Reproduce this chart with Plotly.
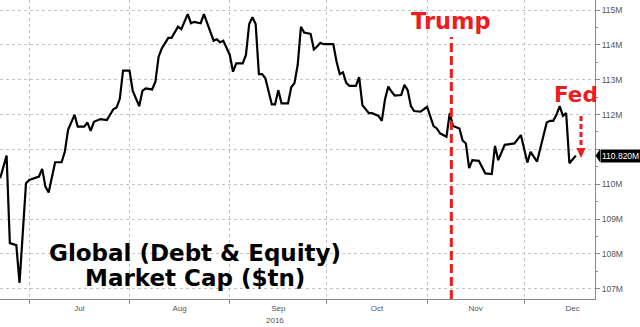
import plotly.graph_objects as go

# Global (debt & equity) market capitalisation, $tn
dates = [
    "2016-06-22", "2016-06-24", "2016-06-25", "2016-06-27", "2016-06-28", "2016-06-30",
    "2016-07-01", "2016-07-04", "2016-07-05", "2016-07-06", "2016-07-07", "2016-07-09",
    "2016-07-11", "2016-07-12", "2016-07-13", "2016-07-15", "2016-07-16", "2016-07-18",
    "2016-07-19", "2016-07-20", "2016-07-21", "2016-07-23", "2016-07-25", "2016-07-27",
    "2016-07-28", "2016-07-29", "2016-07-30", "2016-08-01", "2016-08-02", "2016-08-04",
    "2016-08-05", "2016-08-06", "2016-08-08", "2016-08-09", "2016-08-10", "2016-08-11",
    "2016-08-13", "2016-08-14", "2016-08-16", "2016-08-17", "2016-08-19", "2016-08-20",
    "2016-08-21", "2016-08-23", "2016-08-24", "2016-08-25", "2016-08-26", "2016-08-27",
    "2016-08-28", "2016-08-29", "2016-08-30", "2016-08-31", "2016-09-01", "2016-09-02",
    "2016-09-03", "2016-09-05", "2016-09-06", "2016-09-07", "2016-09-08", "2016-09-09",
    "2016-09-10", "2016-09-11", "2016-09-12", "2016-09-14", "2016-09-15", "2016-09-16",
    "2016-09-17", "2016-09-19", "2016-09-20", "2016-09-21", "2016-09-22", "2016-09-23",
    "2016-09-24", "2016-09-26", "2016-09-27", "2016-09-28", "2016-09-29", "2016-09-30",
    "2016-10-03", "2016-10-04", "2016-10-05", "2016-10-06", "2016-10-07", "2016-10-08",
    "2016-10-10", "2016-10-11", "2016-10-12", "2016-10-14", "2016-10-15", "2016-10-17",
    "2016-10-18", "2016-10-19", "2016-10-20", "2016-10-21", "2016-10-22", "2016-10-24",
    "2016-10-25", "2016-10-26", "2016-10-27", "2016-10-28", "2016-10-30", "2016-11-01",
    "2016-11-02", "2016-11-03", "2016-11-04", "2016-11-05", "2016-11-07", "2016-11-08",
    "2016-11-09", "2016-11-11", "2016-11-12", "2016-11-13", "2016-11-14", "2016-11-15",
    "2016-11-17", "2016-11-19", "2016-11-21", "2016-11-22", "2016-11-23", "2016-11-25",
    "2016-11-28", "2016-11-30", "2016-12-02", "2016-12-03", "2016-12-05", "2016-12-06",
    "2016-12-08", "2016-12-09", "2016-12-10", "2016-12-11", "2016-12-12", "2016-12-13",
    "2016-12-14", "2016-12-15", "2016-12-16", "2016-12-17",
]
market_cap = [
    110.17, 110.82, 108.31, 108.25, 107.17, 110.03,
    110.12, 110.22, 110.44, 109.93, 109.76, 110.63,
    110.63, 110.93, 111.56, 111.99, 111.65, 111.65,
    111.77, 111.53, 111.79, 111.87, 111.84, 112.15,
    112.20, 112.45, 113.26, 113.26, 112.68, 112.24,
    112.68, 112.75, 112.72, 112.94, 113.66, 113.90,
    114.20, 114.20, 114.52, 114.45, 114.88, 114.62,
    114.66, 114.62, 114.88, 114.62, 114.33, 114.12,
    114.16, 114.07, 114.12, 113.90, 113.71, 113.23,
    113.47, 113.47, 113.71, 114.60, 114.79, 114.60,
    113.16, 113.16, 113.04, 112.29, 112.29, 112.70,
    112.32, 112.32, 112.78, 112.90, 113.42, 114.52,
    114.35, 114.31, 113.87, 113.95, 114.06, 114.02,
    114.02, 113.52, 113.16, 113.21, 112.91, 112.82,
    112.82, 113.07, 112.27, 112.04, 112.04, 111.96,
    111.82, 112.44, 112.80, 112.66, 112.54, 112.56,
    112.85, 112.70, 112.24, 112.10, 112.08, 112.22,
    111.92, 111.67, 111.60, 111.46, 111.36, 112.04,
    111.67, 111.60, 111.25, 111.17, 110.46, 110.69,
    110.67, 110.31, 110.29, 111.10, 110.69, 111.13,
    111.17, 111.41, 110.62, 110.93, 110.65, 111.00,
    111.77, 111.82, 111.82, 111.99, 112.24, 111.96,
    112.04, 110.60, 110.72, 110.82,
]

# the 111M label sits under the last-value tag, so it is left blank
y_ticks = [107, 108, 109, 110, 111, 112, 113, 114, 115]
y_tick_labels = ["107M", "108M", "109M", "110M", "", "112M", "113M", "114M", "115M"]

last_value = market_cap[-1]
last_label = f"{last_value:.3f}M"
election_day = "2016-11-08 12:00"

RED = "#ee1c1c"
GRID = "#c4c4c4"
AXIS = "#8a8a8a"
TICKTXT = "#555555"

fig = go.Figure()
fig.add_trace(go.Scatter(
    x=dates, y=market_cap, mode="lines",
    line=dict(color="black", width=2.2),
    hoverinfo="skip", showlegend=False,
))

# plot area is 595 x 299 px; helpers for paper coordinates
PW, PH = 595.0, 299.0
def px(x):
    return x / PW
def py(y):
    return (PH - y) / PH

shapes = [
    # election-day marker
    dict(type="line", xref="x", yref="paper", x0=election_day, x1=election_day,
         y0=0, y1=py(37), line=dict(color=RED, width=3, dash="9px,4px")),
    # Fed arrow: dashed shaft + head
    dict(type="line", xref="paper", yref="paper", x0=px(581), x1=px(581),
         y0=py(116), y1=py(149), line=dict(color=RED, width=3, dash="5px,3px")),
    dict(type="path", xref="paper", yref="paper",
         path=f"M {px(576.5)},{py(148)} L {px(585.5)},{py(148)} L {px(581)},{py(158)} Z",
         fillcolor=RED, line=dict(color=RED, width=0)),
    # last-value tag pointer
    dict(type="path", xref="paper", yref="y",
         path=f"M {px(595.5)},{last_value} L {px(600)},{last_value + 0.19} "
              f"L {px(600)},{last_value - 0.19} Z",
         fillcolor="black", line=dict(color="black", width=0)),
]

annotations = [
    dict(text="<b>Trump</b>", xref="x", yref="paper", x=election_day, y=py(21),
         xanchor="center", yanchor="middle", showarrow=False,
         font=dict(family="DejaVu Sans", size=22.5, color=RED)),
    dict(text="<b>Fed</b>", xref="paper", yref="paper", x=px(576), y=py(94),
         xanchor="center", yanchor="middle", showarrow=False,
         font=dict(family="DejaVu Sans", size=21.5, color=RED)),
    dict(text="<b>Global (Debt &amp; Equity)</b>", xref="paper", yref="paper",
         x=px(195), y=py(253), xanchor="center", yanchor="middle", showarrow=False,
         font=dict(family="DejaVu Sans", size=23, color="black")),
    dict(text="<b>Market Cap ($tn)</b>", xref="paper", yref="paper",
         x=px(195), y=py(278), xanchor="center", yanchor="middle", showarrow=False,
         font=dict(family="DejaVu Sans", size=23, color="black")),
    dict(text=last_label, xref="paper", yref="y", x=px(600), y=last_value,
         xanchor="left", yanchor="middle", showarrow=False, bgcolor="black",
         borderpad=1, font=dict(family="Liberation Sans", size=8.5, color="white")),
    dict(text="2016", xref="x", yref="paper", x="2016-09-15", y=py(320),
         xanchor="center", yanchor="middle", showarrow=False,
         font=dict(family="Liberation Sans", size=8, color=TICKTXT)),
]

fig.update_layout(
    width=640, height=327,
    margin=dict(l=0, r=45, t=0, b=28),
    paper_bgcolor="white", plot_bgcolor="white",
    shapes=shapes, annotations=annotations,
    xaxis=dict(
        type="date", range=["2016-06-21 23:00", "2016-12-22 22:00"],
        dtick="M1", tick0="2016-07-01", ticklabelmode="period", tickformat="%b",
        ticks="outside", ticklen=4, tickcolor=AXIS, ticklabelstandoff=-3,
        showline=True, linecolor=AXIS, linewidth=1,
        showgrid=True, gridcolor=GRID, griddash="dot", gridwidth=1,
        zeroline=False,
        tickfont=dict(family="Liberation Sans", size=8, color=TICKTXT),
    ),
    yaxis=dict(
        side="right", range=[106.705, 115.287],
        tickvals=y_ticks, ticktext=y_tick_labels,
        ticks="outside", ticklen=4, tickcolor=AXIS,
        minor=dict(dtick=0.5, tick0=107, ticks="outside", ticklen=2,
                   tickcolor=AXIS, showgrid=False),
        showline=True, linecolor=AXIS, linewidth=1,
        showgrid=True, gridcolor=GRID, griddash="dot", gridwidth=1,
        zeroline=False,
        tickfont=dict(family="Liberation Sans", size=8.5, color=TICKTXT),
    ),
)

fig.write_html("out.html")
